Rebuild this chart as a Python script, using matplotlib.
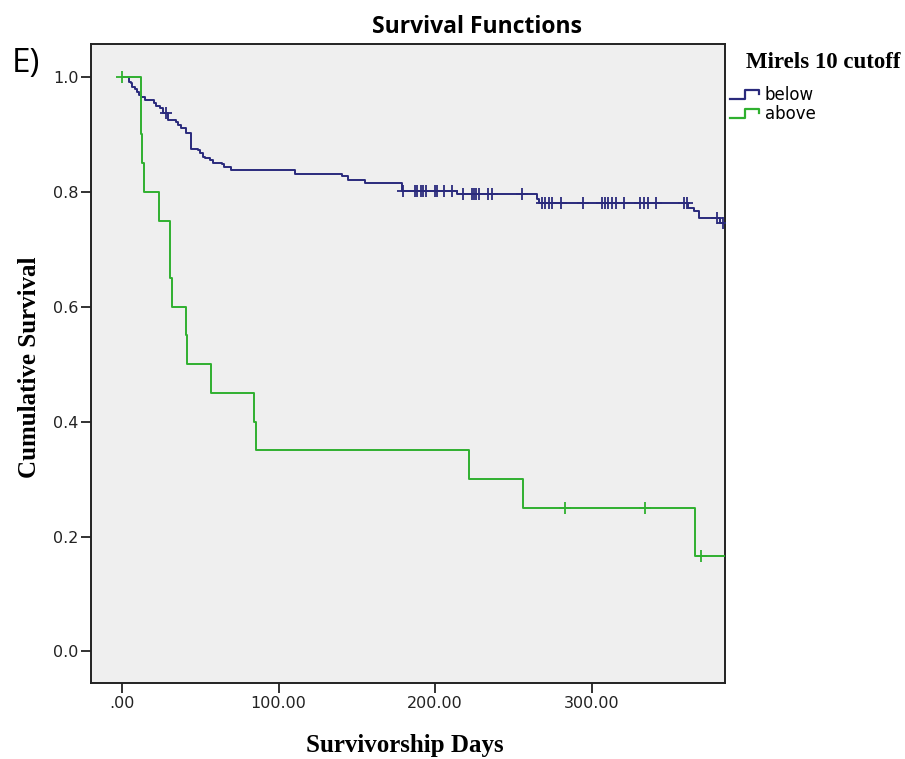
import numpy as np
import matplotlib
matplotlib.use('Agg')
import matplotlib.pyplot as plt
from matplotlib.lines import Line2D

# Kaplan-Meier steps: (days, cumulative survival after the drop)
below_days = [0, 4.5, 5.5, 6.4, 8.1, 9.8, 10.6, 11.9, 14.5, 20.4, 21.9, 24.1, 26.2,
              29.4, 34.7, 35.8, 37.9, 41.1, 43.9, 44.3, 48.5, 49.6, 51.7, 53.2, 56.0,
              58.1, 63.9, 65.1, 69.8, 110.5, 140.3, 144.5, 155.2, 178.6, 213.7, 264.8,
              266.5, 361.6, 365.0, 368.5, 382.0, 390.0]
below_surv = [1.0, 0.992, 0.989, 0.983, 0.979, 0.974, 0.969, 0.966, 0.960, 0.954, 0.950,
              0.946, 0.938, 0.925, 0.922, 0.917, 0.911, 0.902, 0.896, 0.875, 0.873, 0.867,
              0.861, 0.859, 0.856, 0.851, 0.848, 0.843, 0.838, 0.832, 0.827, 0.821, 0.815,
              0.802, 0.797, 0.787, 0.780, 0.772, 0.766, 0.755, 0.746, 0.746]
below_censored = [27.9, 179.6, 187.1, 188.6, 190.7, 192.4, 193.9, 199.9, 201.3, 205.6,
                  210.5, 217.5, 223.3, 224.8, 226.1, 228.0, 233.9, 236.5, 255.5, 268.0,
                  270.1, 272.7, 274.8, 280.1, 294.6, 306.3, 308.4, 310.5, 313.1, 315.2,
                  320.6, 330.8, 333.3, 336.1, 340.8, 358.9, 360.6, 379.7, 383.5]

above_days = [0, 12.0, 13.0, 14.0, 23.8, 30.6, 31.7, 40.9, 41.7, 56.6, 84.5, 85.6,
              221.8, 256.3, 365.9, 390.0]
above_surv = [1.0, 0.90, 0.85, 0.80, 0.75, 0.65, 0.60, 0.55, 0.50, 0.45, 0.40, 0.35,
              0.30, 0.25, 0.1667, 0.1667]
above_censored = [0, 282.9, 334.0, 369.7]

groups = ['below', 'above']
colors = {'below': '#2a2a7c', 'above': '#2fb02f'}

x_ticks = [0, 100, 200, 300]
x_tick_labels = ['.00', '100.00', '200.00', '300.00']
y_ticks = [0.0, 0.2, 0.4, 0.6, 0.8, 1.0]


def surv_at(days, surv, t):
    # value of the step curve at time t
    idx = np.searchsorted(days, t, side='right') - 1
    return np.asarray(surv)[idx]


fig = plt.figure(figsize=(9.05, 7.59), dpi=100)
ax = fig.add_axes([0.1006, 0.0997, 0.7006, 0.8423])
ax.set_facecolor('#efefef')

curves = {
    'below': (below_days, below_surv, below_censored),
    'above': (above_days, above_surv, above_censored),
}
for g in ['below', 'above']:
    days, surv, cens = curves[g]
    z = 3 if g == 'above' else 2
    ax.step(days, surv, where='post', color=colors[g], lw=1.4, zorder=z)
    ax.plot(cens, surv_at(days, surv, cens), linestyle='none', marker='+',
            ms=9, mew=1.3, color=colors[g], zorder=z + 2)

ax.set_xlim(-19.8, 385.1)
ax.set_ylim(-0.0555, 1.0574)
ax.set_xticks(x_ticks)
ax.set_xticklabels(x_tick_labels)
ax.set_yticks(y_ticks)
ax.set_yticklabels(['%.1f' % v for v in y_ticks])
ax.tick_params(direction='out', length=7, width=1.3, labelsize=11.5, colors='#222222', pad=2)
for sp in ax.spines.values():
    sp.set_linewidth(1.4)
    sp.set_color('#222222')

# Titles and labels
fig.text(0.411, 0.9565, 'Survival Functions', ha='left', va='baseline',
         fontsize=16.5, fontweight='bold', family='Open Sans')
fig.text(0.013, 0.905, 'E)', ha='left', va='baseline', fontsize=24, family='Open Sans')
fig.text(0.033, 0.5165, 'Cumulative Survival', ha='center', va='center', rotation=90,
         fontsize=18, fontweight='bold', family='Liberation Serif')
fig.text(0.4475, 0.0184, 'Survivorship Days', ha='center', va='center',
         fontsize=18, fontweight='bold', family='Liberation Serif')

# Legend drawn by hand with step-shaped keys
fig.text(746 / 905, 0.9104, 'Mirels 10 cutoff', ha='left', va='baseline',
         fontsize=16.5, fontweight='bold', family='Liberation Serif')
W, H = 905.0, 759.0
for i, g in enumerate(groups):
    y0 = 99.3 + 19 * i
    px = [730, 745, 745, 759, 759]
    py = [y0, y0, y0 - 9, y0 - 9, y0 - 5]
    fig.add_artist(Line2D([p / W for p in px], [1 - p / H for p in py],
                          transform=fig.transFigure, color=colors[g], lw=1.6))
    fig.text(765 / W, 1 - (y0 - 4) / H, g, ha='left', va='center', fontsize=12)

fig.savefig('out.png', dpi=100, facecolor='white')
